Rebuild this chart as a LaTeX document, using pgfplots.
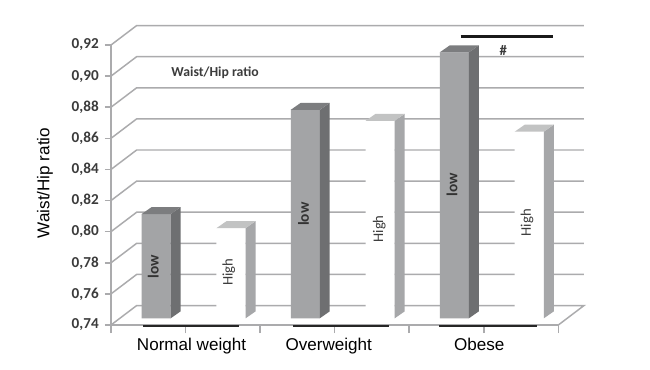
\documentclass[border=0pt]{standalone}
\usepackage{fontspec}
\setmainfont{Liberation Sans}
\newfontfamily\carl{Carlito}
\usepackage{pgfplots}
\pgfplotsset{compat=1.18}
\definecolor{gridc}{HTML}{ABABAD}
\definecolor{lowf}{HTML}{A3A4A6}
\definecolor{lows}{HTML}{6E6F71}
\definecolor{lowt}{HTML}{7C7D7F}
\definecolor{highs}{HTML}{A6A7A9}
\definecolor{hight}{HTML}{C2C3C3}
\definecolor{lab}{HTML}{3C3C3C}
\begin{document}
\begin{tikzpicture}
\fill[white] (-83.25pt,-33pt) rectangle (404.25pt,243.75pt);
\begin{axis}[
  scale only axis, width=335.5pt, height=210pt,
  clip=false,
  xmin=0, xmax=3, ymin=0.74, ymax=0.92,
  axis x line=bottom, axis y line=left,
  axis line style={draw=gridc, line width=1.1pt, -},
  tick align=outside,
  ytick={0.74,0.76,0.78,0.80,0.82,0.84,0.86,0.88,0.90,0.92},
  yticklabel style={/pgf/number format/fixed, /pgf/number format/fixed zerofill,
    /pgf/number format/precision=2, /pgf/number format/use comma,
    /pgf/number format/assume math mode=true,
    font={\carl\bfseries\fontsize{11.4pt}{12pt}\selectfont}, text=lab, inner sep=0pt, xshift=-4.5pt},
  y tick style={draw=gridc, line width=1.1pt},
  major tick length=4.5pt,
  xtick={0.54,1.46,2.47},
  xticklabels={Normal weight,Overweight,Obese},
  x tick style={draw=none},
  xticklabel style={font=\fontsize{12.8pt}{14pt}\selectfont, text=black, inner sep=0pt, yshift=-5pt},
  extra x ticks={0,0.5,1,1.5,2,2.5,3},
  extra x tick labels={},
  extra x tick style={x tick style={draw=gridc, line width=1.1pt}, major tick length=6pt},
  ylabel={Waist/Hip ratio},
  every axis y label/.style={at={(axis description cs:-0.1475,0.507)}, rotate=90, anchor=center,
    font=\fontsize{12.8pt}{14pt}\selectfont},
]
% wall and floor lines
\addplot[draw=gridc, line width=1.1pt] coordinates {(0,0.74)(0.172,0.7525)(3.172,0.7525)(3,0.74)};
\addplot[draw=gridc, line width=1.1pt] coordinates {(0,0.76)(0.172,0.7725)(3.172,0.7725)};
\addplot[draw=gridc, line width=1.1pt] coordinates {(0,0.78)(0.172,0.7925)(3.172,0.7925)};
\addplot[draw=gridc, line width=1.1pt] coordinates {(0,0.80)(0.172,0.8125)(3.172,0.8125)};
\addplot[draw=gridc, line width=1.1pt] coordinates {(0,0.82)(0.172,0.8325)(3.172,0.8325)};
\addplot[draw=gridc, line width=1.1pt] coordinates {(0,0.84)(0.172,0.8525)(3.172,0.8525)};
\addplot[draw=gridc, line width=1.1pt] coordinates {(0,0.86)(0.172,0.8725)(3.172,0.8725)};
\addplot[draw=gridc, line width=1.1pt] coordinates {(0,0.88)(0.172,0.8925)(3.172,0.8925)};
\addplot[draw=gridc, line width=1.1pt] coordinates {(0,0.90)(0.172,0.9125)(3.172,0.9125)};
\addplot[draw=gridc, line width=1.1pt] coordinates {(0,0.92)(0.172,0.9325)(3.172,0.9325)};
% bars: front faces
\addplot[ybar, bar width=0.195, bar shift=-0.251, fill=lowf, draw=none, yshift=5pt]
  coordinates {(0.554,0.807)(1.554,0.874)(2.554,0.911)};
\addplot[ybar, bar width=0.195, bar shift=0.251, fill=white, draw=none, yshift=5pt]
  coordinates {(0.554,0.798)(1.554,0.867)(2.554,0.860)};
% side faces
\addplot[fill=lows, draw=none, yshift=5pt] coordinates {(0.40,0.74)(0.467,0.7445)(0.467,0.8115)(0.40,0.807)} --cycle;
\addplot[fill=lows, draw=none, yshift=5pt] coordinates {(1.40,0.74)(1.467,0.7445)(1.467,0.8785)(1.40,0.874)} --cycle;
\addplot[fill=lows, draw=none, yshift=5pt] coordinates {(2.40,0.74)(2.467,0.7445)(2.467,0.9155)(2.40,0.911)} --cycle;
\addplot[fill=highs, draw=none, yshift=5pt] coordinates {(0.9025,0.74)(0.97,0.7445)(0.97,0.8025)(0.9025,0.798)} --cycle;
\addplot[fill=highs, draw=none, yshift=5pt] coordinates {(1.9025,0.74)(1.97,0.7445)(1.97,0.8715)(1.9025,0.867)} --cycle;
\addplot[fill=highs, draw=none, yshift=5pt] coordinates {(2.9025,0.74)(2.97,0.7445)(2.97,0.8645)(2.9025,0.860)} --cycle;
% top faces
\addplot[fill=lowt, draw=none, yshift=5pt] coordinates {(0.205,0.807)(0.272,0.8115)(0.467,0.8115)(0.40,0.807)} --cycle;
\addplot[fill=lowt, draw=none, yshift=5pt] coordinates {(1.205,0.874)(1.272,0.8785)(1.467,0.8785)(1.40,0.874)} --cycle;
\addplot[fill=lowt, draw=none, yshift=5pt] coordinates {(2.205,0.911)(2.272,0.9155)(2.467,0.9155)(2.40,0.911)} --cycle;
\addplot[fill=hight, draw=none, yshift=5pt] coordinates {(0.7075,0.798)(0.775,0.8025)(0.97,0.8025)(0.9025,0.798)} --cycle;
\addplot[fill=hight, draw=none, yshift=5pt] coordinates {(1.7075,0.867)(1.775,0.8715)(1.97,0.8715)(1.9025,0.867)} --cycle;
\addplot[fill=hight, draw=none, yshift=5pt] coordinates {(2.7075,0.860)(2.775,0.8645)(2.97,0.8645)(2.9025,0.860)} --cycle;
% dark rules
\addplot[draw=black!85, line width=1.6pt, yshift=-0.8pt] coordinates {(0.215,0.74)(0.859,0.74)};
\addplot[draw=black!85, line width=1.6pt, yshift=-0.8pt] coordinates {(1.22,0.74)(1.865,0.74)};
\addplot[draw=black!85, line width=1.6pt, yshift=-0.8pt] coordinates {(2.20,0.74)(2.857,0.74)};
\addplot[draw=black!90, line width=2.4pt] coordinates {(2.345,0.9256)(2.962,0.9256)};
% texts
\node[font={\carl\bfseries\fontsize{10.3pt}{12pt}\selectfont}, text=lab] at (axis cs:0.698,0.902) {Waist/Hip ratio};
\node[font={\carl\bfseries\fontsize{11pt}{12pt}\selectfont}, text=lab] at (axis cs:2.63,0.9167) {\#};
\node[rotate=90, font={\carl\bfseries\fontsize{11.5pt}{12pt}\selectfont}, text=black!80] at (axis cs:0.284,0.7775) {low};
\node[rotate=90, font={\carl\bfseries\fontsize{11.5pt}{12pt}\selectfont}, text=black!80] at (axis cs:1.291,0.8112) {low};
\node[rotate=90, font={\carl\bfseries\fontsize{11.5pt}{12pt}\selectfont}, text=black!80] at (axis cs:2.287,0.8302) {low};
\node[rotate=90, font={\carl\fontsize{11pt}{12pt}\selectfont}, text=lab] at (axis cs:0.79,0.7738) {High};
\node[rotate=90, font={\carl\fontsize{11pt}{12pt}\selectfont}, text=lab] at (axis cs:1.80,0.8018) {High};
\node[rotate=90, font={\carl\fontsize{11pt}{12pt}\selectfont}, text=lab] at (axis cs:2.79,0.8058) {High};
\end{axis}
\end{tikzpicture}
\end{document}
